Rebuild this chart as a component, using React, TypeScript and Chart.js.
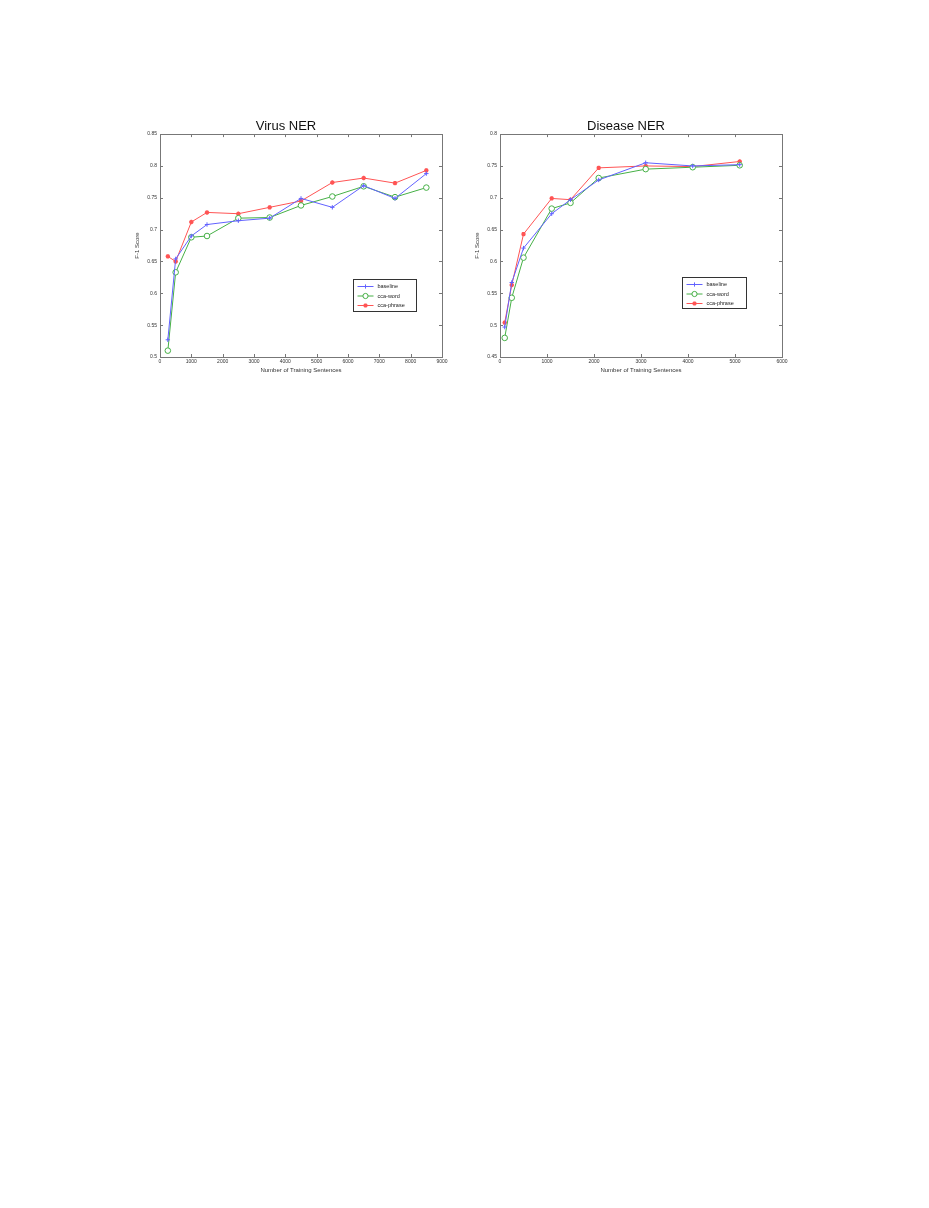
import React, { useEffect, useRef } from "react";
import { Chart, registerables } from "chart.js";

Chart.register(...registerables);

// ---------- data ----------
const seriesNames = ["baseline", "cca-word", "cca-phrase"];

const virusX = [250, 500, 1000, 1500, 2500, 3500, 4500, 5500, 6500, 7500, 8500];
const virusBaseline = [0.527, 0.654, 0.69, 0.708, 0.714, 0.718, 0.749, 0.735, 0.769, 0.749, 0.788];
const virusCcaWord = [0.51, 0.633, 0.688, 0.69, 0.718, 0.719, 0.738, 0.752, 0.768, 0.751, 0.766];
const virusCcaPhrase = [0.658, 0.65, 0.712, 0.727, 0.725, 0.735, 0.745, 0.774, 0.781, 0.773, 0.793];
const virusXTicks = [0, 1000, 2000, 3000, 4000, 5000, 6000, 7000, 8000, 9000];
const virusYTicks = [0.5, 0.55, 0.6, 0.65, 0.7, 0.75, 0.8, 0.85];

const diseaseX = [100, 250, 500, 1100, 1500, 2100, 3100, 4100, 5100];
const diseaseBaseline = [0.497, 0.567, 0.621, 0.675, 0.697, 0.728, 0.755, 0.75, 0.752];
const diseaseCcaWord = [0.48, 0.543, 0.606, 0.683, 0.692, 0.731, 0.745, 0.748, 0.751];
const diseaseCcaPhrase = [0.504, 0.563, 0.643, 0.699, 0.697, 0.747, 0.75, 0.749, 0.757];
const diseaseXTicks = [0, 1000, 2000, 3000, 4000, 5000, 6000];
const diseaseYTicks = [0.45, 0.5, 0.55, 0.6, 0.65, 0.7, 0.75, 0.8];

const xTitle = "Number of Training Sentences";
const yTitle = "F-1 Score";

// ---------- styles ----------
const FONT = "'Liberation Sans', Arial, Helvetica, sans-serif";
const COLORS = ["#6262ff", "#46b046", "#ff5454"];
const POINT_STYLES = ["cross", "circle", "star"];
const POINT_RADII = [2.2, 2.8, 2.2];

function drawMarker(ctx: CanvasRenderingContext2D, style: string, x: number, y: number, r: number, color: string) {
  ctx.save();
  ctx.strokeStyle = color;
  ctx.fillStyle = "#fff";
  ctx.lineWidth = 1;
  ctx.beginPath();
  if (style === "circle") {
    ctx.arc(x, y, r, 0, Math.PI * 2);
    ctx.fill();
    ctx.stroke();
  } else if (style === "cross") {
    ctx.moveTo(x - r, y);
    ctx.lineTo(x + r, y);
    ctx.moveTo(x, y - r);
    ctx.lineTo(x, y + r);
    ctx.stroke();
  } else {
    ctx.lineWidth = 1.4;
    ctx.moveTo(x - r, y);
    ctx.lineTo(x + r, y);
    ctx.moveTo(x, y - r);
    ctx.lineTo(x, y + r);
    const d = r * 0.7;
    ctx.moveTo(x - d, y - d);
    ctx.lineTo(x + d, y + d);
    ctx.moveTo(x - d, y + d);
    ctx.lineTo(x + d, y - d);
    ctx.stroke();
  }
  ctx.restore();
}

const frameTicksPlugin = {
  id: "frameTicks",
  afterDatasetsDraw(chart: any) {
    const { ctx, chartArea: a, scales } = chart;
    ctx.save();
    ctx.strokeStyle = "#777";
    ctx.lineWidth = 1;
    const L = 3;
    ctx.beginPath();
    scales.x.ticks.forEach((t: any) => {
      const px = Math.round(scales.x.getPixelForValue(t.value)) + 0.5;
      ctx.moveTo(px, a.bottom);
      ctx.lineTo(px, a.bottom - L);
      ctx.moveTo(px, a.top);
      ctx.lineTo(px, a.top + L);
    });
    scales.y.ticks.forEach((t: any) => {
      const py = Math.round(scales.y.getPixelForValue(t.value)) + 0.5;
      ctx.moveTo(a.left, py);
      ctx.lineTo(a.left + L, py);
      ctx.moveTo(a.right, py);
      ctx.lineTo(a.right - L, py);
    });
    ctx.stroke();
    ctx.strokeRect(Math.round(a.left) + 0.5, Math.round(a.top) + 0.5, Math.round(a.right - a.left), Math.round(a.bottom - a.top));
    ctx.restore();
  },
};

const boxLegendPlugin = {
  id: "boxLegend",
  afterDraw(chart: any, _args: any, opts: any) {
    const { ctx, chartArea: a } = chart;
    const w = opts.width, h = opts.height;
    const x0 = Math.round(a.right - opts.right - w) + 0.5;
    const y0 = Math.round(a.bottom - opts.bottom - h) + 0.5;
    ctx.save();
    ctx.fillStyle = "#fff";
    ctx.fillRect(x0, y0, w, h);
    ctx.strokeStyle = "#333";
    ctx.lineWidth = 1;
    ctx.strokeRect(x0, y0, w, h);
    ctx.font = `5.5px ${FONT}`;
    ctx.textBaseline = "middle";
    chart.data.datasets.forEach((ds: any, i: number) => {
      const cy = y0 + 7 + i * 9.5;
      ctx.strokeStyle = ds.borderColor;
      ctx.lineWidth = 1;
      ctx.beginPath();
      ctx.moveTo(x0 + 4, cy);
      ctx.lineTo(x0 + 20, cy);
      ctx.stroke();
      drawMarker(ctx, ds.pointStyle, x0 + 12, cy, i === 1 ? 2.6 : 2.1, ds.borderColor);
      ctx.fillStyle = "#222";
      ctx.fillText(ds.label, x0 + 24, cy);
    });
    ctx.restore();
  },
};

function makeConfig(title: string, xs: number[], series: number[][], xTicks: number[], yTicks: number[], legendPos: any) {
  return {
    type: "line",
    data: {
      datasets: series.map((vals, i) => ({
        label: seriesNames[i],
        data: xs.map((x, j) => ({ x, y: vals[j] })),
        borderColor: COLORS[i],
        backgroundColor: i === 1 ? "#fff" : COLORS[i],
        borderWidth: 1,
        pointStyle: POINT_STYLES[i],
        pointRadius: POINT_RADII[i],
        pointBorderWidth: i === 2 ? 1.4 : 1,
        pointBorderColor: COLORS[i],
        pointBackgroundColor: i === 1 ? "#fff" : COLORS[i],
        tension: 0,
        fill: false,
      })),
    },
    options: {
      animation: false,
      responsive: false,
      maintainAspectRatio: false,
      layout: { padding: { left: 10, right: 18, top: 0, bottom: 0 } },
      plugins: {
        legend: { display: false },
        tooltip: { enabled: false },
        title: {
          display: true,
          text: title,
          color: "#111",
          font: { family: FONT, size: 13, weight: "normal", lineHeight: 1.2 },
          padding: { top: 13.5, bottom: 0 },
        },
        boxLegend: legendPos,
      },
      scales: {
        x: {
          type: "linear",
          min: xTicks[0],
          max: xTicks[xTicks.length - 1],
          afterBuildTicks: (s: any) => {
            s.ticks = xTicks.map((v) => ({ value: v }));
          },
          afterFit: (s: any) => {
            s.height = 21;
          },
          grid: { display: false, drawTicks: false },
          border: { display: false },
          ticks: {
            autoSkip: false,
            maxRotation: 0,
            padding: 2,
            color: "#333",
            font: { family: FONT, size: 5 },
            callback: (v: any) => String(v),
          },
          title: {
            display: true,
            text: xTitle,
            color: "#333",
            font: { family: FONT, size: 6 },
            padding: { top: 0, bottom: 4 },
          },
        },
        y: {
          type: "linear",
          min: yTicks[0],
          max: yTicks[yTicks.length - 1],
          afterBuildTicks: (s: any) => {
            s.ticks = yTicks.map((v) => ({ value: v }));
          },
          afterFit: (s: any) => {
            s.width = 30;
          },
          grid: { display: false, drawTicks: false },
          border: { display: false },
          ticks: {
            autoSkip: false,
            padding: 3,
            color: "#333",
            font: { family: FONT, size: 5 },
            callback: (v: any) => String(v),
          },
          title: {
            display: true,
            text: yTitle,
            color: "#333",
            font: { family: FONT, size: 6 },
            padding: { top: 4, bottom: 0 },
          },
        },
      },
    },
    plugins: [frameTicksPlugin, boxLegendPlugin],
  };
}

function ChartCanvas({ config, left, top, width, height }: any) {
  const ref = useRef<HTMLCanvasElement | null>(null);
  useEffect(() => {
    if (!ref.current) return;
    const chart = new Chart(ref.current, config as any);
    return () => chart.destroy();
  }, []);
  return (
    <div style={{ position: "absolute", left, top, width, height }}>
      <canvas ref={ref} width={width} height={height} style={{ width, height, display: "block" }} />
    </div>
  );
}

export default function App() {
  const virusCfg = makeConfig(
    "Virus NER",
    virusX,
    [virusBaseline, virusCcaWord, virusCcaPhrase],
    virusXTicks,
    virusYTicks,
    { right: 26, bottom: 46, width: 63, height: 32 }
  );
  const diseaseCfg = makeConfig(
    "Disease NER",
    diseaseX,
    [diseaseBaseline, diseaseCcaWord, diseaseCcaPhrase],
    diseaseXTicks,
    diseaseYTicks,
    { right: 36, bottom: 49, width: 64, height: 31 }
  );
  return (
    <div style={{ position: "absolute", left: 0, top: 0, width: 929, height: 1208, background: "#fff" }}>
      <ChartCanvas config={virusCfg} left={120} top={105} width={340} height={273} />
      <ChartCanvas config={diseaseCfg} left={460} top={105} width={340} height={273} />
    </div>
  );
}
